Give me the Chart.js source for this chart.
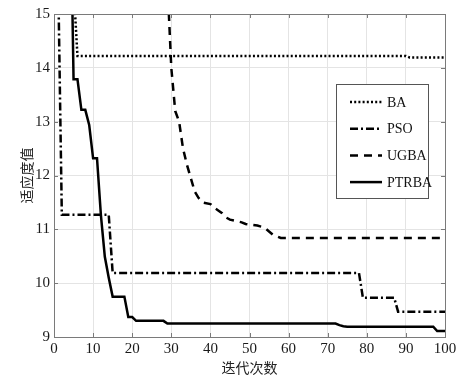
<!DOCTYPE html>
<html><head><meta charset="utf-8">
<script src="https://cdn.jsdelivr.net/npm/chart.js@4"></script>
<style>html,body{margin:0;padding:0;background:#fff}#c{display:block}</style>
</head><body>
<canvas id="c" width="469" height="379"></canvas>
<script>
// ---- data ----
const seriesLabels = ['BA', 'PSO', 'UGBA', 'PTRBA'];
const xTicks = [0, 10, 20, 30, 40, 50, 60, 70, 80, 90, 100];
const yTicks = [9, 10, 11, 12, 13, 14, 15];

const baX = [0, 5, 6, 90, 91, 100];
const baY = [17, 15.52, 14.22, 14.22, 14.19, 14.19];

const psoX = [0, 1, 2, 14, 15, 78, 79, 87, 88, 100];
const psoY = [30, 16, 11.27, 11.27, 10.19, 10.19, 9.73, 9.73, 9.47, 9.47];

const ugbaX = [0, 29, 30, 31, 32, 33, 34, 35, 36, 37, 38, 40, 41, 42, 43, 44, 45, 48, 49, 52, 53, 54, 55, 56, 57, 58, 100];
const ugbaY = [20, 15.6, 14.0, 13.2, 13.0, 12.5, 12.2, 11.95, 11.7, 11.58, 11.5, 11.47, 11.4, 11.35, 11.3, 11.22, 11.18, 11.13, 11.1, 11.07, 11.05, 11.02, 10.96, 10.9, 10.87, 10.84, 10.84];

const ptrbaX = [0, 4, 5, 6, 7, 8, 9, 10, 11, 12, 13, 14, 15, 18, 19, 20, 21, 28, 29, 72, 73, 74, 75, 97, 98, 100];
const ptrbaY = [25, 18.2, 13.79, 13.79, 13.22, 13.22, 12.94, 12.32, 12.32, 11.26, 10.49, 10.1, 9.75, 9.75, 9.37, 9.37, 9.3, 9.3, 9.25, 9.25, 9.22, 9.2, 9.19, 9.19, 9.11, 9.11];

const toPts = (xs, ys) => xs.map((x, i) => ({x: x, y: ys[i]}));

const serif = '"Liberation Serif", "Times New Roman", serif';
const cjk = '"Noto Sans CJK SC", sans-serif';

const frameTicks = {
  id: 'frameTicks',
  afterDraw(chart) {
    const {ctx, chartArea: a, scales: {x, y}} = chart;
    ctx.save();
    ctx.strokeStyle = '#7a7a7a';
    ctx.lineWidth = 1;
    ctx.setLineDash([]);
    ctx.strokeRect(Math.round(a.left) + 0.5, Math.round(a.top) + 0.5, Math.round(a.right - a.left), Math.round(a.bottom - a.top));
    ctx.beginPath();
    xTicks.forEach(v => {
      const px = Math.round(x.getPixelForValue(v)) + 0.5;
      ctx.moveTo(px, a.bottom); ctx.lineTo(px, a.bottom - 4);
      ctx.moveTo(px, a.top); ctx.lineTo(px, a.top + 4);
    });
    yTicks.forEach(v => {
      const py = Math.round(y.getPixelForValue(v)) + 0.5;
      ctx.moveTo(a.left, py); ctx.lineTo(a.left + 4, py);
      ctx.moveTo(a.right, py); ctx.lineTo(a.right - 4, py);
    });
    ctx.stroke();
    ctx.restore();
  }
};

const boxLegend = {
  id: 'boxLegend',
  afterDraw(chart) {
    const ctx = chart.ctx;
    const L = 336, T = 84, W = 92, H = 114;
    ctx.save();
    ctx.fillStyle = '#fff';
    ctx.fillRect(L, T, W, H);
    ctx.strokeStyle = '#555';
    ctx.lineWidth = 1;
    ctx.setLineDash([]);
    ctx.strokeRect(L + 0.5, T + 0.5, W, H);
    chart.data.datasets.forEach((ds, i) => {
      const yy = T + 18 + i * 26.7;
      ctx.beginPath();
      ctx.setLineDash(ds.borderDash || []);
      ctx.lineWidth = ds.borderWidth;
      ctx.strokeStyle = ds.borderColor;
      ctx.moveTo(L + 14, yy);
      ctx.lineTo(L + 46, yy);
      ctx.stroke();
      ctx.setLineDash([]);
      ctx.fillStyle = '#111';
      ctx.font = '14px ' + serif;
      ctx.textBaseline = 'middle';
      ctx.textAlign = 'left';
      ctx.fillText(ds.label, L + 51, yy + 1);
    });
    ctx.restore();
  }
};

const styles = [
  {borderDash: [2, 2.2], borderWidth: 2.5},
  {borderDash: [8, 3, 2, 3], borderWidth: 2.5},
  {borderDash: [8, 6], borderWidth: 2.5},
  {borderDash: [], borderWidth: 2.5}
];
const allPts = [toPts(baX, baY), toPts(psoX, psoY), toPts(ugbaX, ugbaY), toPts(ptrbaX, ptrbaY)];

new Chart(document.getElementById('c'), {
  type: 'line',
  data: {
    datasets: seriesLabels.map((lab, i) => ({
      label: lab,
      data: allPts[i],
      borderColor: '#000',
      backgroundColor: '#000',
      borderWidth: styles[i].borderWidth,
      borderDash: styles[i].borderDash,
      borderCapStyle: 'butt',
      borderJoinStyle: 'miter',
      pointRadius: 0,
      tension: 0,
      fill: false,
      clip: 0
    }))
  },
  options: {
    responsive: false,
    animation: false,
    devicePixelRatio: 1,
    layout: {padding: {left: 0, right: 24, top: 14, bottom: 0}},
    plugins: {legend: {display: false}, tooltip: {enabled: false}},
    scales: {
      x: {
        type: 'linear', min: 0, max: 100,
        afterBuildTicks: s => { s.ticks = xTicks.map(v => ({value: v})); },
        afterFit: s => { s.height = 42; },
        grid: {color: '#e4e4e4', drawTicks: false},
        border: {display: true, color: '#7a7a7a'},
        ticks: {padding: 3, color: '#1a1a1a', font: {family: serif, size: 15}, maxRotation: 0},
        title: {display: true, text: '迭代次数', color: '#222', font: {family: cjk, size: 14}, padding: {top: 0, bottom: 3}}
      },
      y: {
        type: 'linear', min: 9, max: 15,
        afterBuildTicks: s => { s.ticks = yTicks.map(v => ({value: v})); },
        afterFit: s => { s.width = 54; },
        grid: {color: '#e4e4e4', drawTicks: false},
        border: {display: true, color: '#7a7a7a'},
        ticks: {padding: 4, color: '#1a1a1a', font: {family: serif, size: 15}},
        title: {display: true, text: '适应度值', color: '#222', font: {family: cjk, size: 14}, padding: {top: 18, bottom: 0}}
      }
    }
  },
  plugins: [frameTicks, boxLegend]
});
</script>
</body></html>
